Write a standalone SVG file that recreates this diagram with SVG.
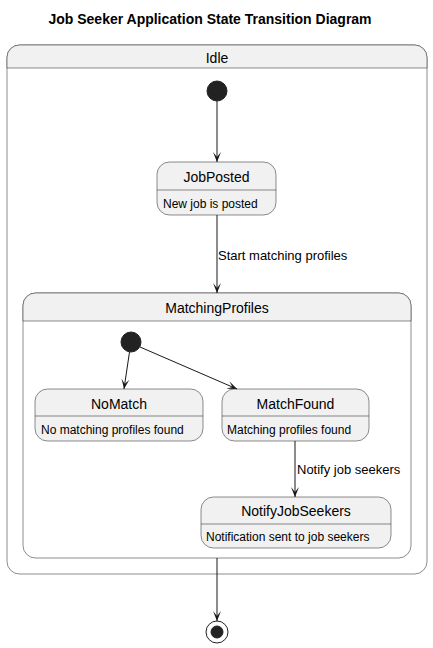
<svg xmlns="http://www.w3.org/2000/svg" width="433" height="648" viewBox="0 0 433 648">
<defs>
<style>
.st{fill:#F1F1F1;stroke:#181818;stroke-width:0.5}
.cs{fill:#FFFFFF;stroke:#181818;stroke-width:0.5}
.hd{fill:#F1F1F1;stroke:#181818;stroke-width:0.5}
.sep{stroke:#181818;stroke-width:0.5}
.nm{font-family:"Liberation Sans",Arial,sans-serif;font-size:14px;fill:#000;text-anchor:middle}
.ds{font-family:"Liberation Sans",Arial,sans-serif;font-size:12px;fill:#000}
.lb{font-family:"Liberation Sans",Arial,sans-serif;font-size:13px;fill:#000}
.ttl{font-family:"Liberation Sans",Arial,sans-serif;font-size:14px;font-weight:bold;fill:#000;text-anchor:middle}
.ln{stroke:#181818;stroke-width:1;fill:none}
.init{fill:#222222;stroke:#222222}
</style>
<marker id="ah" viewBox="0 0 10 10" refX="10" refY="5" markerWidth="10" markerHeight="10" markerUnits="userSpaceOnUse" orient="auto">
<path d="M0,1 L10,5 L0,9 L5,5 Z" fill="#181818"/>
</marker>
</defs>
<rect width="433" height="648" fill="#FFFFFF"/>
<text class="ttl" x="210" y="24">Job Seeker Application State Transition Diagram</text>

<g id="Idle">
<rect class="cs" x="7" y="45" width="420" height="529" rx="12.5" ry="12.5"/>
<path class="hd" d="M7,68 V57.5 A12.5,12.5 0 0 1 19.5,45 H414.5 A12.5,12.5 0 0 1 427,57.5 V68 Z"/>
<text class="nm" x="217" y="63">Idle</text>
</g>

<g id="IdleInitial">
<circle class="init" cx="217" cy="91" r="10"/>
</g>

<g id="JobPosted">
<rect class="st" x="157" y="162" width="119" height="53" rx="12.5" ry="12.5"/>
<line class="sep" x1="157" y1="190" x2="276" y2="190"/>
<text class="nm" x="216.5" y="182">JobPosted</text>
<text class="ds" x="163" y="208">New job is posted</text>
</g>

<g id="MatchingProfiles">
<rect class="cs" x="23" y="293" width="388" height="265" rx="12.5" ry="12.5"/>
<path class="hd" d="M23,321 V305.5 A12.5,12.5 0 0 1 35.5,293 H398.5 A12.5,12.5 0 0 1 411,305.5 V321 Z"/>
<text class="nm" x="217" y="313">MatchingProfiles</text>
</g>

<g id="MatchingInitial">
<circle class="init" cx="131" cy="342" r="10"/>
</g>

<g id="NoMatch">
<rect class="st" x="35" y="389" width="168" height="52" rx="12.5" ry="12.5"/>
<line class="sep" x1="35" y1="416" x2="203" y2="416"/>
<text class="nm" x="119" y="409">NoMatch</text>
<text class="ds" x="41" y="434">No matching profiles found</text>
</g>

<g id="MatchFound">
<rect class="st" x="222" y="389" width="147" height="52" rx="12.5" ry="12.5"/>
<line class="sep" x1="222" y1="416" x2="369" y2="416"/>
<text class="nm" x="295.5" y="409">MatchFound</text>
<text class="ds" x="227" y="434">Matching profiles found</text>
</g>

<g id="NotifyJobSeekers">
<rect class="st" x="201" y="497" width="190" height="51" rx="12.5" ry="12.5"/>
<line class="sep" x1="201" y1="524" x2="391" y2="524"/>
<text class="nm" x="296" y="516">NotifyJobSeekers</text>
<text class="ds" x="206" y="541">Notification sent to job seekers</text>
</g>

<g id="Final">
<circle cx="217" cy="632" r="11" fill="none" stroke="#222222" stroke-width="1"/>
<circle class="init" cx="217" cy="632" r="6"/>
</g>

<g id="connectors">
<line class="ln" x1="217" y1="101" x2="217" y2="162" marker-end="url(#ah)"/>
<line class="ln" x1="217" y1="215" x2="217" y2="293" marker-end="url(#ah)"/>
<text class="lb" x="218" y="260">Start matching profiles</text>
<line class="ln" x1="129.5" y1="352" x2="124" y2="389" marker-end="url(#ah)"/>
<line class="ln" x1="140" y1="347" x2="237" y2="389" marker-end="url(#ah)"/>
<line class="ln" x1="295" y1="441" x2="295" y2="497" marker-end="url(#ah)"/>
<text class="lb" x="297" y="474">Notify job seekers</text>
<line class="ln" x1="217" y1="558" x2="217" y2="621" marker-end="url(#ah)"/>
</g>
</svg>
